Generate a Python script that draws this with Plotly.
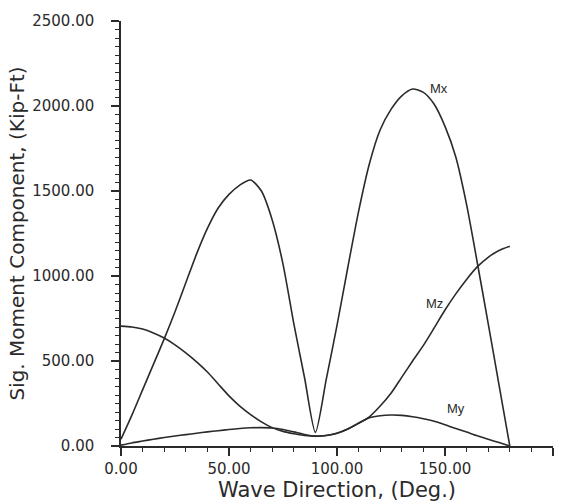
import plotly.graph_objects as go

direction = [0, 5, 10, 15, 20, 25, 30, 35, 40, 45, 50, 55, 60, 65, 70, 75, 80, 85, 90,
             95, 100, 105, 110, 115, 120, 125, 130, 135, 140, 145, 150, 155, 160, 165,
             170, 175, 180]
mx = [40, 180, 330, 480, 630, 790, 960, 1130, 1280, 1400, 1480, 1535, 1565, 1500, 1330,
      1070, 720, 400, 80, 390, 710, 1050, 1380, 1660, 1860, 1980, 2060, 2100, 2080, 2010,
      1880, 1700, 1420, 1075, 720, 360, 0]
mz = [705, 700, 688, 665, 635, 595, 548, 495, 435, 365, 295, 235, 185, 142, 108, 86, 72,
      62, 58, 62, 75, 100, 133, 172, 235, 310, 405, 500, 592, 695, 800, 895, 980, 1055,
      1110, 1150, 1175]
my = [5, 18, 29, 40, 50, 59, 67, 75, 83, 90, 97, 103, 107, 108, 106, 97, 83, 68, 58, 62,
      75, 100, 135, 166, 178, 182, 180, 172, 160, 145, 125, 103, 82, 60, 40, 20, 0]

series_names = ["Mx", "Mz", "My"]
label_pos = [(147, 2103), (145, 840), (155, 218)]

x_title = "Wave Direction, (Deg.)"
y_title = "Sig. Moment Component, (Kip-Ft)"

FONT = "DejaVu Sans"
INK = "#2a2a2a"

fig = go.Figure()
for name, vals in zip(series_names, [mx, mz, my]):
    fig.add_trace(go.Scatter(x=direction, y=vals, mode="lines", name=name,
                             line=dict(color=INK, width=1.6, shape="spline", smoothing=0.7),
                             cliponaxis=False))

for name, (lx, ly) in zip(series_names, label_pos):
    fig.add_annotation(x=lx, y=ly, text=name, showarrow=False,
                       font=dict(family="Liberation Sans Narrow, Liberation Sans", size=13,
                                 color=INK))

fig.update_layout(
    width=578, height=504,
    margin=dict(l=121, r=25, t=18, b=51),
    paper_bgcolor="white", plot_bgcolor="white",
    showlegend=False,
    font=dict(family=FONT, color=INK),
)
fig.update_xaxes(
    range=[0, 200], dtick=50, tickformat=".2f", showgrid=False, zeroline=False,
    showline=True, linecolor=INK, linewidth=1.5,
    ticks="outside", ticklen=8, tickwidth=1.5, tickcolor=INK,
    minor=dict(dtick=10, ticks="outside", ticklen=4, tickwidth=1.2, tickcolor=INK),
    tickfont=dict(family=FONT, size=15, color=INK),
    title=dict(text=x_title, font=dict(family=FONT, size=21, color=INK), standoff=0),
)
fig.update_yaxes(
    range=[0, 2500], dtick=500, tickformat=".2f", showgrid=False, zeroline=False,
    showline=True, linecolor=INK, linewidth=1.5,
    ticks="outside", ticklen=8, tickwidth=1.5, tickcolor=INK, ticklabelstandoff=14,
    minor=dict(dtick=50, ticks="outside", ticklen=4, tickwidth=1.2, tickcolor=INK),
    tickfont=dict(family=FONT, size=15, color=INK),
    title=dict(text=y_title, font=dict(family=FONT, size=20, color=INK), standoff=2),
)

fig.write_html("out.html")
